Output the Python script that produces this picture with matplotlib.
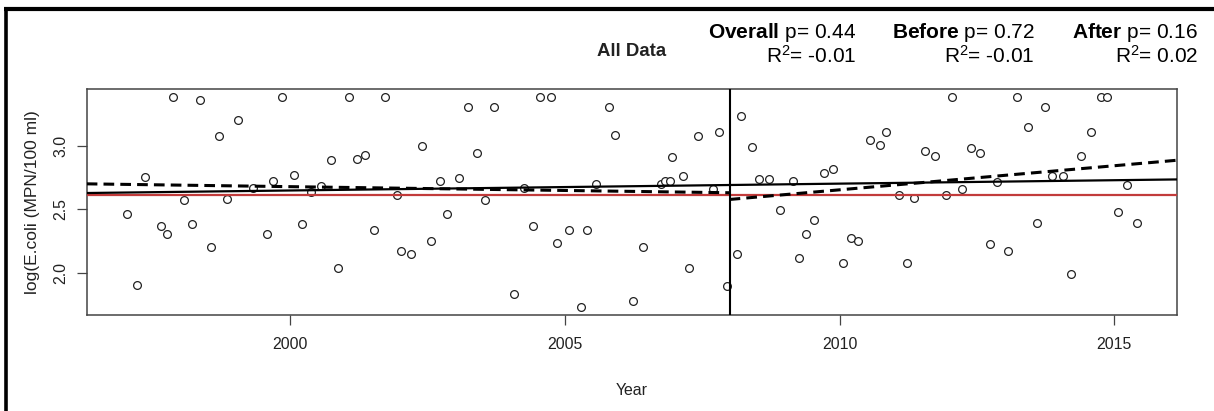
import matplotlib
matplotlib.use("Agg")
import matplotlib.pyplot as plt
from matplotlib.lines import Line2D
import numpy as np

plt.rcParams['font.family'] = ['Liberation Sans', 'DejaVu Sans']
plt.rcParams['mathtext.fontset'] = 'custom'
plt.rcParams['mathtext.rm'] = 'Liberation Sans'
plt.rcParams['mathtext.bf'] = 'Liberation Sans:bold'
plt.rcParams['mathtext.it'] = 'Liberation Sans:italic'

# ---- data -------------------------------------------------------------
years = [
    1997.04, 1997.22, 1997.37, 1997.66, 1997.76, 1997.88, 1998.07, 1998.22,
    1998.36, 1998.56, 1998.71, 1998.85, 1999.06, 1999.33, 1999.58, 1999.70,
    1999.86, 2000.07, 2000.23, 2000.38, 2000.56, 2000.75, 2000.87, 2001.08,
    2001.22, 2001.37, 2001.53, 2001.73, 2001.95, 2002.03, 2002.21, 2002.41,
    2002.56, 2002.74, 2002.86, 2003.08, 2003.24, 2003.41, 2003.55, 2003.72,
    2004.07, 2004.26, 2004.42, 2004.56, 2004.75, 2004.86, 2005.08, 2005.30,
    2005.41, 2005.57, 2005.81, 2005.92, 2006.24, 2006.42, 2006.75, 2006.82,
    2006.91, 2006.95, 2007.15, 2007.26, 2007.43, 2007.69, 2007.81, 2007.95,
    2008.14, 2008.21, 2008.41, 2008.54, 2008.72, 2008.92, 2009.15, 2009.26,
    2009.39, 2009.54, 2009.72, 2009.88, 2010.06, 2010.21, 2010.34, 2010.56,
    2010.74, 2010.85, 2011.09, 2011.22, 2011.36, 2011.56, 2011.73, 2011.93,
    2012.05, 2012.23, 2012.40, 2012.55, 2012.73, 2012.86, 2013.06, 2013.22,
    2013.42, 2013.59, 2013.74, 2013.87, 2014.06, 2014.22, 2014.39, 2014.58,
    2014.75, 2014.86, 2015.06, 2015.23, 2015.41,
]
log_ecoli = [
    2.463, 1.902, 2.753, 2.366, 2.303, 3.384, 2.573, 2.384,
    3.367, 2.208, 3.081, 2.579, 3.205, 2.666, 2.303, 2.721,
    3.384, 2.774, 2.384, 2.640, 2.684, 2.887, 2.039, 3.384,
    2.895, 2.927, 2.342, 3.384, 2.611, 2.174, 2.152, 3.003,
    2.255, 2.721, 2.463, 2.745, 3.311, 2.942, 2.573, 3.311,
    1.831, 2.671, 2.366, 3.384, 3.384, 2.234, 2.342, 1.734,
    2.342, 2.697, 3.311, 3.087, 1.776, 2.208, 2.697, 2.724,
    2.724, 2.916, 2.766, 2.039, 3.081, 2.663, 3.113, 1.894,
    2.152, 3.237, 2.995, 2.742, 2.742, 2.495, 2.721, 2.118,
    2.303, 2.416, 2.790, 2.816, 2.079, 2.279, 2.253, 3.047,
    3.008, 3.113, 2.611, 2.079, 2.592, 2.965, 2.919, 2.611,
    3.384, 2.663, 2.984, 2.942, 2.231, 2.716, 2.174, 3.384,
    3.150, 2.397, 3.311, 2.766, 2.766, 1.990, 2.919, 3.113,
    3.384, 3.384, 2.479, 2.692, 2.397,
]

break_year = 2008.0
threshold = np.log10(410)          # single-sample standard, 410 MPN/100 ml

# linear fits: (value at break_year, slope per year)
fit_overall = (2.693, 0.0054)
fit_before = (2.632, -0.0060)
fit_after = (2.579, 0.0380)

period_names = ["Overall", "Before", "After"]
p_values = ["0.44", "0.72", "0.16"]
r2_values = ["-0.01", "-0.01", "0.02"]

x_ticks = [2000, 2005, 2010, 2015]
y_ticks = [2.0, 2.5, 3.0]

# ---- figure -----------------------------------------------------------
W, H = 1214, 411
fig = plt.figure(figsize=(W / 100, H / 100), dpi=100)
fig.patch.set_facecolor('white')

def px(x, y):
    return x / W, 1 - y / H

left, top, right, bottom = 86.7, 89.0, 1177.3, 315.0
ax = fig.add_axes([left / W, 1 - bottom / H, (right - left) / W, (bottom - top) / H])

yrs = np.asarray(years)
vals = np.asarray(log_ecoli)

# R-style 4% padding around the data range
xr = yrs.max() - yrs.min()
yr = vals.max() - vals.min()
x0, x1 = yrs.min() - 0.04 * xr, yrs.max() + 0.04 * xr
y0, y1 = vals.min() - 0.04 * yr, vals.max() + 0.04 * yr
ax.set_xlim(x0, x1)
ax.set_ylim(y0, y1)

ax.plot(yrs, vals, linestyle='none', marker='o', markersize=5.6,
        markerfacecolor='white', markeredgecolor='#222222', markeredgewidth=0.9,
        zorder=2)

def fit_line(fit, xa, xb):
    xs = np.array([xa, xb])
    return xs, fit[0] + fit[1] * (xs - break_year)

ax.axhline(threshold, color='#c23b3b', lw=1.6, zorder=3)

xs, ys = fit_line(fit_overall, x0, x1)
ax.plot(xs, ys, color='black', lw=1.6, zorder=4)

xs, ys = fit_line(fit_before, x0, break_year)
ax.plot(xs, ys, color='black', lw=2.2, dashes=(3.5, 2.0), zorder=4)
xs, ys = fit_line(fit_after, break_year, x1)
ax.plot(xs, ys, color='black', lw=2.2, dashes=(3.5, 2.0), zorder=4)

ax.axvline(break_year, color='black', lw=1.5, zorder=5)

for s in ax.spines.values():
    s.set_color('#444444')
    s.set_linewidth(1.1)

ax.set_xticks(x_ticks)
ax.set_xticklabels([str(t) for t in x_ticks])
ax.set_yticks(y_ticks)
ax.set_yticklabels([f"{t:.1f}" for t in y_ticks], rotation=90, va='center')
ax.tick_params(direction='out', length=7, width=0.9, color='#444444',
               labelsize=11.4, labelcolor='#222222')
ax.tick_params(axis='x', pad=9)
ax.tick_params(axis='y', pad=6)

ax.set_xlabel("Year", fontsize=11.4, color='#222222', labelpad=22)
ax.set_ylabel("log(E.coli (MPN/100 ml)", fontsize=12.5, color='#222222', labelpad=10)

# ---- headings -----------------------------------------------------------
fig.text(*px(632, 51), "All Data", ha='center', va='center',
         fontsize=13.4, fontweight='bold', color='#222222')

right_edges = [856.5, 1034.6, 1198.0]
for name, p, r2, xr_ in zip(period_names, p_values, r2_values, right_edges):
    fig.text(*px(xr_, 38), rf"$\mathbf{{{name}}}$ p= {p}", ha='right',
             va='baseline', fontsize=15, color='black')
    fig.text(*px(xr_, 63), rf"R$^{{2}}$= {r2}", ha='right',
             va='baseline', fontsize=15, color='black')

# frame lines along top and left edges
fig.add_artist(Line2D([px(4, 0)[0], 1], [px(0, 9)[1]] * 2, color='black',
                      lw=3.0, transform=fig.transFigure, solid_capstyle='butt'))
fig.add_artist(Line2D([px(5.5, 0)[0]] * 2, [0, px(0, 7)[1]], color='black',
                      lw=2.6, transform=fig.transFigure, solid_capstyle='butt'))

fig.savefig("out.png", dpi=100)
